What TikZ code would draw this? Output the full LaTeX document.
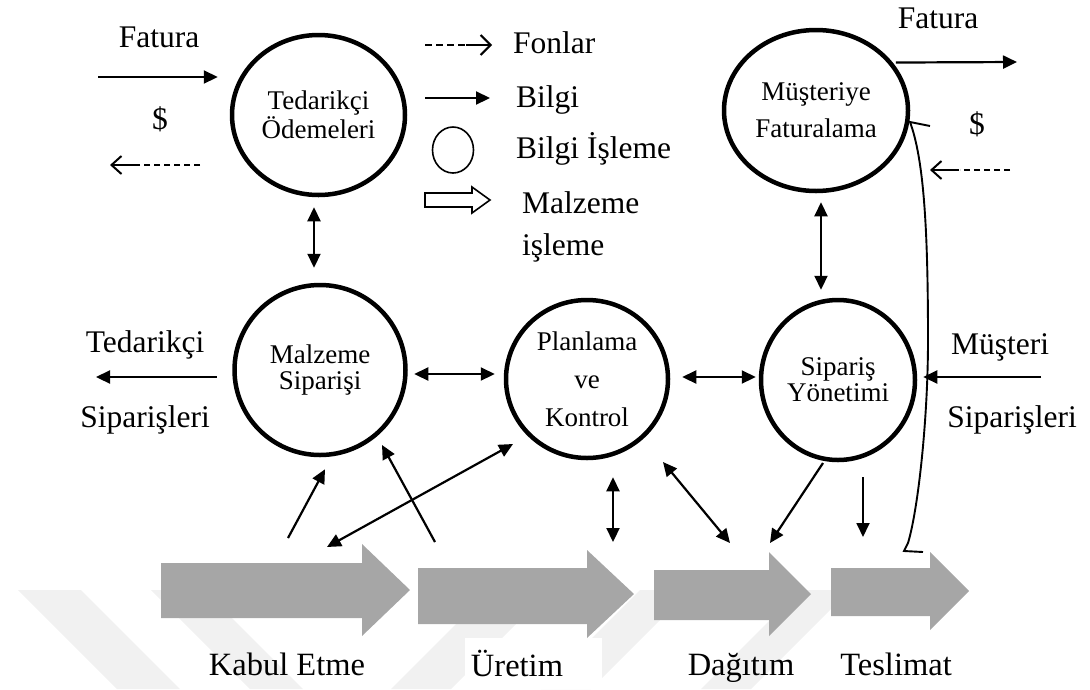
\documentclass[tikz,border=0pt]{standalone}
\usepackage{fontspec}
\setmainfont{Liberation Serif}
\usetikzlibrary{shapes.geometric,arrows.meta}
\definecolor{flowgray}{HTML}{A6A6A6}
\definecolor{stripegray}{HTML}{F1F1F1}
\begin{document}
\begin{tikzpicture}[x=1pt,y=-1pt,
  proc/.style={draw, line width=4.5pt, ellipse, inner sep=0pt, align=center},
  lbl/.style={font=\fontsize{31.5}{36}\selectfont, inner sep=0pt, anchor=base},
  info/.style={line width=2.2pt, -{Triangle[length=14pt,width=13pt]}},
  both/.style={line width=2.2pt, {Triangle[length=14pt,width=13pt]}-{Triangle[length=14pt,width=13pt]}},
  fund/.style={line width=2pt},
  flow/.style={fill=flowgray, draw=none},
  stripe/.style={fill=stripegray, draw=none}]
\useasboundingbox (0,0) rectangle (1090,689);

% faint background stripes
\fill[stripe] (18,590) -- (81,590) -- (180,689) -- (117,689) -- cycle;
\fill[stripe] (151,590) -- (204,590) -- (303,689) -- (250,689) -- cycle;
\fill[stripe] (391,689) -- (451,689) -- (550,590) -- (490,590) -- cycle;
\fill[stripe] (541,689) -- (591,689) -- (690,590) -- (640,590) -- cycle;
\fill[stripe] (701,689) -- (751,689) -- (850,590) -- (800,590) -- cycle;
\fill[white] (465,638) rectangle (602,689);

% information processing circles
\node[proc, minimum width=173pt, minimum height=160pt, font=\fontsize{27}{25}\selectfont] (TO) at (318.5,115) {Tedarikçi\\Ödemeleri};
\node[proc, minimum width=184pt, minimum height=161pt, font=\fontsize{27}{37}\selectfont] (MF) at (816,110.5) {Müşteriye\\Faturalama};
\node[proc, minimum width=171pt, minimum height=170pt, font=\fontsize{27}{26}\selectfont] (MS) at (320,370) {Malzeme\\Siparişi};
\node[proc, minimum width=162pt, minimum height=158pt, font=\fontsize{27}{38}\selectfont] (PK) at (587,379) {Planlama\\ve\\Kontrol};
\node[proc, minimum width=154pt, minimum height=160pt, font=\fontsize{27}{26}\selectfont] (SY) at (838,380) {Sipariş\\Yönetimi};

% material flow arrows
\fill[flow] (161,563) -- (362,563) -- (362,544) -- (410,590) -- (362,636) -- (362,618) -- (161,618) -- cycle;
\fill[flow] (418,568) -- (587,568) -- (587,550) -- (634,594) -- (587,638) -- (587,624) -- (418,624) -- cycle;
\fill[flow] (654,570) -- (769,570) -- (769,552) -- (811,594) -- (769,636) -- (769,620) -- (654,620) -- cycle;
\fill[flow] (831,568) -- (930,568) -- (930,552) -- (969,591) -- (930,630) -- (930,616) -- (831,616) -- cycle;

% free ends of connectors
\coordinate (finL) at (98,77);
\coordinate (foutR) at (1017,62);
\coordinate (tsOut) at (96,377);
\coordinate (msIn) at (1041,377);
\coordinate (kab1) at (288,538);
\coordinate (kab2) at (327,547);
\coordinate (ure1) at (435,542);
\coordinate (ure2) at (613,542);
\coordinate (dag1) at (730,543);
\coordinate (dag2) at (770,543);
\coordinate (tes1) at (863,537);
\coordinate (tesHook) at (923,552);

% information links
\draw[info] (finL) -- ([shift={(-12,-38)}]TO.west);
\draw[info] ([xshift=3pt]MF.32) -- (foutR);
\draw[info] ([shift={(-15.5,7)}]MS.west) -- (tsOut);
\draw[info] (msIn) -- ([shift={(6,-3)}]SY.east);
\draw[both] ([shift={(-4.5,10)}]TO.south) -- ([shift={(-6,-15)}]MS.north);
\draw[both] ([shift={(5,9)}]MF.south) -- ([shift={(-17,-8)}]SY.north);
\draw[both] ([shift={(6.5,4)}]MS.east) -- ([shift={(-9,-5)}]PK.west);
\draw[both] ([shift={(12,-2)}]PK.east) -- ([shift={(-3,-3)}]SY.west);
\draw[info] (kab1) -- ([shift={(5,12)}]MS.south);
\draw[info] (ure1) -- ([shift={(62,75)}]MS.center);
\draw[both] (kab2) -- ([shift={(-74,65)}]PK.center);
\draw[both] ([shift={(26,17)}]PK.south) -- (ure2);
\draw[both] ([shift={(76,83)}]PK.center) -- (dag1);
\draw[info] ([shift={(-15,83)}]SY.center) -- (dag2);
\draw[info, line width=1.8pt] ([shift={(25,97)}]SY.center) -- (tes1);

% delivery feedback to billing
\draw[line width=1.9pt] (tesHook) -- (904,551) -- (908,543)
  .. controls (918,510) and (928,420) .. (928,340)
  .. controls (928,230) and (924,160) .. ([shift={(94,11.5)}]MF.center) -- ++(20,4);

% fund flows
\draw[fund, dash pattern=on 6pt off 4pt] (200,165) -- (139,165);
\draw[fund, -{Straight Barb[length=10pt,width=18pt]}] (139,165) -- (110,165);
\draw[fund, dash pattern=on 6pt off 4pt] (1010,170) -- (960,170);
\draw[fund, -{Straight Barb[length=10pt,width=18pt]}] (959,170) -- (930,170);

% legend
\draw[fund, dash pattern=on 7pt off 4pt] (425,45) -- (466,45);
\draw[fund, -{Straight Barb[length=10pt,width=20pt]}] (466,45) -- (492,45);
\draw[info] (425,98) -- (490,98);
\node[draw, line width=1.6pt, ellipse, minimum width=41pt, minimum height=46pt, inner sep=0pt] (legc) at (453,150) {};
\draw[line width=1.6pt] (425,193) -- (472,193) -- (472,187) -- (490,200) -- (472,213) -- (472,207) -- (425,207) -- cycle;

% labels
\node[lbl] (fatL) at (159,47) {Fatura};
\node[lbl] (usdL) at (160,129) {\$};
\node[lbl, anchor=base west] (lg1) at (513,53) {Fonlar};
\node[lbl, anchor=base west] (lg2) at (516,107) {Bilgi};
\node[lbl, anchor=base west] (lg3) at (516,158) {Bilgi İşleme};
\node[lbl, anchor=base west] (lg4) at (522,213) {Malzeme};
\node[lbl, anchor=base west] (lg5) at (522,255) {işleme};
\node[lbl] (fatR) at (938,28) {Fatura};
\node[lbl] (usdR) at (977,134) {\$};
\node[lbl] (tsA) at (145,352) {Tedarikçi};
\node[lbl] (tsB) at (145,427) {Siparişleri};
\node[lbl] (msA) at (1000,354) {Müşteri};
\node[lbl] (msB) at (1012,427) {Siparişleri};
\node[lbl, font=\fontsize{32.5}{36}\selectfont] (st1) at (287,675) {Kabul Etme};
\node[lbl, font=\fontsize{32.5}{36}\selectfont] (st2) at (517,676) {Üretim};
\node[lbl, font=\fontsize{32.5}{36}\selectfont] (st3) at (741,675) {Dağıtım};
\node[lbl, font=\fontsize{32.5}{36}\selectfont] (st4) at (896,675) {Teslimat};
\end{tikzpicture}
\end{document}
